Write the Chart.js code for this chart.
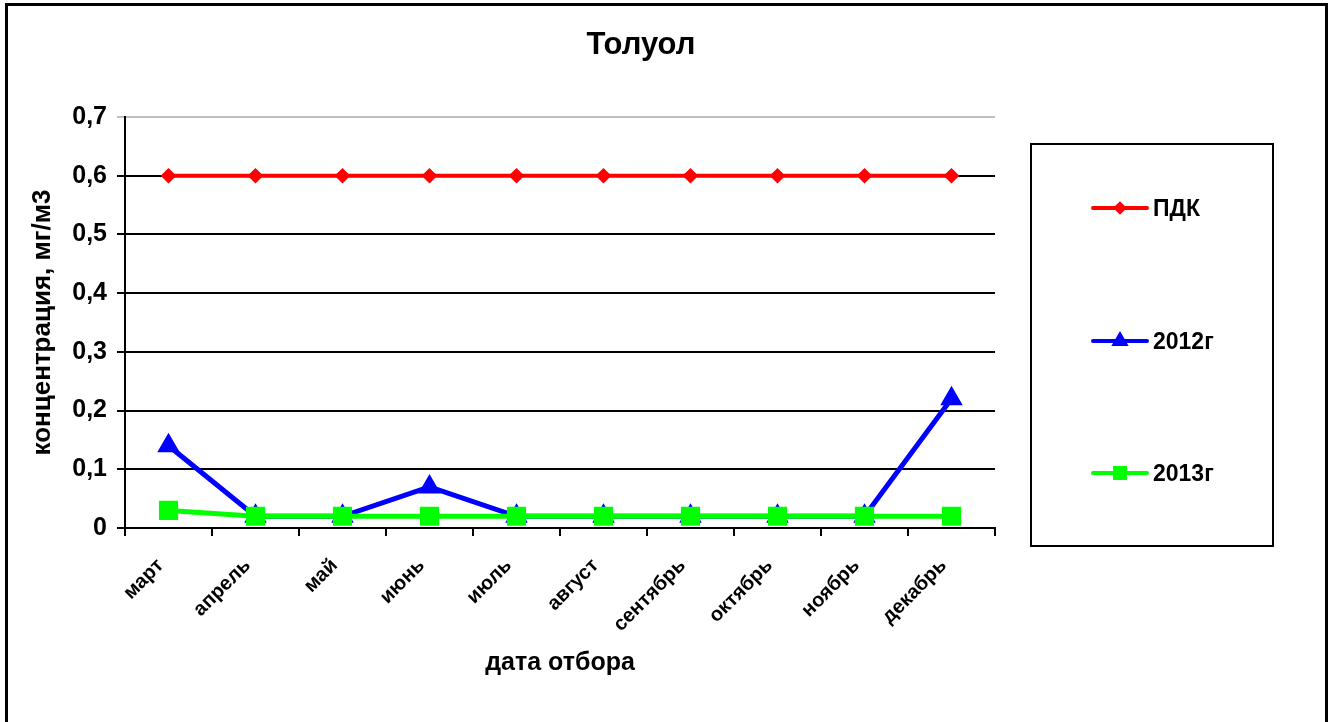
<!DOCTYPE html>
<html>
<head>
<meta charset="utf-8">
<script src="https://cdn.jsdelivr.net/npm/chart.js@4/dist/chart.umd.min.js"></script>
<style>
html,body{margin:0;padding:0;background:#fff;}
#c{display:block;}
</style>
</head>
<body>
<canvas id="c" width="1335" height="722"></canvas>
<script>
const chartTitle = 'Толуол';
const xTitle = 'дата отбора';
const yTitle = 'концентрация, мг/м3';
const months = ['март','апрель','май','июнь','июль','август','сентябрь','октябрь','ноябрь','декабрь'];
const seriesNames = ['ПДК','2012г','2013г'];
const pdk   = [0.6,0.6,0.6,0.6,0.6,0.6,0.6,0.6,0.6,0.6];
const y2012 = [0.14,0.02,0.02,0.07,0.02,0.02,0.02,0.02,0.02,0.22];
const y2013 = [0.03,0.02,0.02,0.02,0.02,0.02,0.02,0.02,0.02,0.02];
const yTickLabels = {0:'0',0.1:'0,1',0.2:'0,2',0.3:'0,3',0.4:'0,4',0.5:'0,5',0.6:'0,6',0.7:'0,7'};

const FONT = "'Liberation Sans', Arial, sans-serif";

const decor = {
  id: 'decor',
  afterDraw(chart) {
    const ctx = chart.ctx;
    ctx.save();
    // outer border
    ctx.strokeStyle = '#000';
    ctx.lineWidth = 3;
    ctx.strokeRect(6.5, 4.5, 1320, 730);
    // title
    ctx.fillStyle = '#000';
    ctx.font = 'bold 31px ' + FONT;
    ctx.textAlign = 'center';
    ctx.textBaseline = 'middle';
    ctx.fillText(chartTitle, 641, 45);
    // legend box
    ctx.lineWidth = 2;
    ctx.strokeRect(1031, 144, 242, 402);
    const ys = [208, 341, 473];
    const legendRadius = [4, 6, 7];
    chart.data.datasets.forEach((ds, i) => {
      const y = ys[i];
      ctx.strokeStyle = ds.borderColor;
      ctx.lineWidth = 4;
      ctx.lineCap = 'round';
      ctx.beginPath();
      ctx.moveTo(1093, y);
      ctx.lineTo(1147, y);
      ctx.stroke();
      ctx.fillStyle = ds.pointBackgroundColor;
      ctx.strokeStyle = ds.pointBorderColor;
      Chart.helpers.drawPoint(ctx, {pointStyle: ds.pointStyle, radius: legendRadius[i], borderWidth: 1, rotation: 0}, 1120, y);
      ctx.fillStyle = '#000';
      ctx.font = 'bold 23px ' + FONT;
      ctx.textAlign = 'left';
      ctx.textBaseline = 'middle';
      ctx.fillText(ds.label, 1153, y + 2);
    });
    ctx.restore();
  }
};

new Chart(document.getElementById('c'), {
  type: 'line',
  data: {
    labels: months,
    datasets: [
      {label: seriesNames[0], data: pdk, borderColor: '#ff0000', backgroundColor: '#ff0000',
       pointBackgroundColor: '#ff0000', pointBorderColor: '#ff0000', borderWidth: 4,
       pointStyle: 'rectRot', pointRadius: 5, order: 2},
      {label: seriesNames[1], data: y2012, borderColor: '#0000ff', backgroundColor: '#0000ff',
       pointBackgroundColor: '#0000ff', pointBorderColor: '#0000ff', borderWidth: 5,
       pointStyle: 'triangle', pointRadius: 8, order: 1},
      {label: seriesNames[2], data: y2013, borderColor: '#00ff00', backgroundColor: '#00ff00',
       pointBackgroundColor: '#00ff00', pointBorderColor: '#00ff00', borderWidth: 5,
       pointStyle: 'rect', pointRadius: 10, order: 0}
    ]
  },
  options: {
    responsive: false,
    animation: false,
    devicePixelRatio: 1,
    layout: {padding: {left: 0, right: 340, top: 117, bottom: 0}},
    plugins: {legend: {display: false}, title: {display: false}, tooltip: {enabled: false}},
    elements: {line: {tension: 0}, point: {borderWidth: 1}},
    scales: {
      x: {
        offset: true,
        afterFit(s) { s.height = 194; },
        grid: {offset: true, drawOnChartArea: false, drawTicks: true, tickLength: 8, color: '#000', lineWidth: 2},
        border: {display: true, color: '#000', width: 2},
        ticks: {
          maxRotation: 45, minRotation: 45, autoSkip: false, padding: 18, labelOffset: -8,
          color: '#000', font: {family: FONT, size: 20, weight: 'bold'}
        },
        title: {display: true, text: xTitle, color: '#000', font: {family: FONT, size: 25, weight: 'bold'}, padding: {top: 0, bottom: 44}}
      },
      y: {
        min: 0, max: 0.7,
        afterFit(s) { s.width = 125; },
        afterBuildTicks(s) { s.ticks = Object.keys(yTickLabels).map(Number).sort((a,b)=>a-b).map(v => ({value: v})); },
        grid: {
          drawTicks: true, tickLength: 8,
          color: c => (c.tick && Math.abs(c.tick.value - 0.7) < 1e-9) ? '#c0c0c0' : '#000',
          lineWidth: 2
        },
        border: {display: true, color: '#000', width: 2},
        ticks: {
          stepSize: 0.1, padding: 10, color: '#000',
          font: {family: FONT, size: 25, weight: 'bold'},
          callback: v => yTickLabels[Math.round(v*10)/10]
        },
        title: {display: true, text: yTitle, color: '#000', font: {family: FONT, size: 26, weight: 'bold'}, padding: {top: 27, bottom: 0}}
      }
    }
  },
  plugins: [decor]
});
</script>
</body>
</html>
